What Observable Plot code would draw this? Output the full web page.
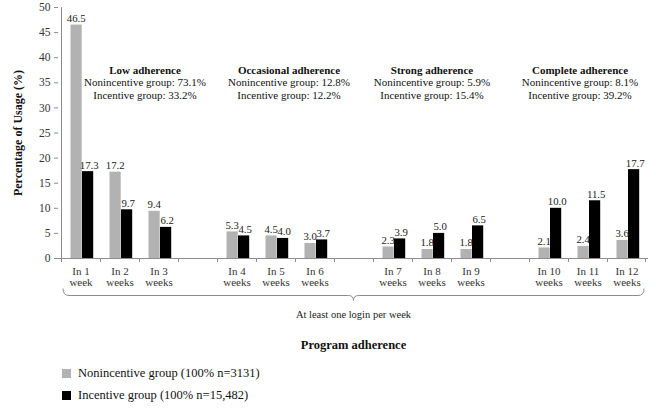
<!DOCTYPE html>
<html>
<head>
<meta charset="utf-8">
<script src="https://cdn.jsdelivr.net/npm/d3@7"></script>
<script src="https://cdn.jsdelivr.net/npm/@observablehq/plot@0.6"></script>
<style>
  html, body { margin: 0; padding: 0; background: #fff; }
  #chart { width: 656px; position: relative; font-family: "Liberation Serif", "Times New Roman", serif; }
  .legend { position: relative; height: 54px; font-size: 12.5px; color: #111; }
  .legend .item { position: absolute; left: 62px; display: flex; align-items: center; }
  .legend .sw { width: 9px; height: 9px; margin-right: 7px; }
</style>
</head>
<body>
<div id="chart"></div>
<script>
// ---- data ----
const slots = ["In 1 week", "In 2 weeks", "In 3 weeks", "gap1",
               "In 4 weeks", "In 5 weeks", "In 6 weeks", "gap2",
               "In 7 weeks", "In 8 weeks", "In 9 weeks", "gap3",
               "In 10 weeks", "In 11 weeks", "In 12 weeks"];
const weeks = ["In 1 week", "In 2 weeks", "In 3 weeks", "In 4 weeks", "In 5 weeks", "In 6 weeks",
               "In 7 weeks", "In 8 weeks", "In 9 weeks", "In 10 weeks", "In 11 weeks", "In 12 weeks"];
const nonincentive = [46.5, 17.2, 9.4, 5.3, 4.5, 3.0, 2.3, 1.8, 1.8, 2.1, 2.4, 3.6];
const incentive    = [17.3, 9.7, 6.2, 4.5, 4.0, 3.7, 3.9, 5.0, 6.5, 10.0, 11.5, 17.7];
const adherenceGroups = ["Low adherence", "Occasional adherence", "Strong adherence", "Complete adherence"];
const groupAnchorWeek = ["In 2 weeks", "In 5 weeks", "In 8 weeks", "In 11 weeks"];
const nonincShare = [73.1, 12.8, 5.9, 8.1];
const incShare    = [33.2, 12.2, 15.4, 39.2];
const yTicks = [0, 5, 10, 15, 20, 25, 30, 35, 40, 45, 50];
const seriesNames = ["Nonincentive group (100% n=3131)", "Incentive group (100% n=15,482)"];

// ---- layout constants ----
const GRAY = "#b2b2b2", BLACK = "#000000", AXIS = "#8c8c8c";
const annDx = [25, 13, 0, -8];
const annY = 37.5;

const nonRows = weeks.map((w, i) => ({slot: w, value: nonincentive[i]}));
const incRows = weeks.map((w, i) => ({slot: w, value: incentive[i]}));
const annRows = adherenceGroups.map((g, i) => ({
  slot: groupAnchorWeek[i], title: g,
  body: `Nonincentive group: ${nonincShare[i].toFixed(1)}%\nIncentive group: ${incShare[i].toFixed(1)}%`,
  dx: annDx[i]
}));

const fmtTick = d => d.startsWith("gap") ? "" : d.replace(/^(In \d+) /, "$1\n");

const marks = [
  Plot.barY(nonRows, {x: "slot", y: "value", fill: GRAY, insetLeft: 9.5, insetRight: 18.3}),
  Plot.barY(incRows, {x: "slot", y: "value", fill: BLACK, insetLeft: 21, insetRight: 6.8}),
  Plot.ruleY([0], {stroke: AXIS}),
  Plot.text(nonRows, {x: "slot", y: "value", text: d => d.value.toFixed(1), dx: -4.8, dy: -3, lineAnchor: "bottom", fontSize: 10.8, fill: "#222"}),
  Plot.text(incRows, {x: "slot", y: "value", text: d => d.value.toFixed(1), dx: 8.2, dy: -3, lineAnchor: "bottom", fontSize: 10.8, fill: "#222"}),
  Plot.axisY({ticks: yTicks, tickSize: 4, tickPadding: 4, stroke: AXIS, fill: "#333", fontSize: 11.5, label: null}),
  Plot.axisX({tickSize: 0, tickPadding: 8, tickFormat: fmtTick, fill: "#333", fontSize: 11, label: null, lineHeight: 1.05}),
  Plot.text(["Percentage of Usage (%)"], {frameAnchor: "left", textAnchor: "middle", rotate: -90, dx: -40, fontWeight: "bold", fontSize: 12, fill: "#111"}),
  Plot.text(["At least one login per week"], {frameAnchor: "bottom", dy: 59, fontSize: 10.5, fill: "#222"}),
  Plot.text(["Program adherence"], {frameAnchor: "bottom", dy: 90, fontWeight: "bold", fontSize: 12.5, fill: "#111"})
];
annRows.forEach(r => {
  marks.push(Plot.text([r], {x: "slot", y: () => annY, text: "title", dx: r.dx, fontWeight: "bold", fontSize: 11, fill: "#111"}));
  marks.push(Plot.text([r], {x: "slot", y: () => annY, text: "body", dx: r.dx, dy: 18.3, fontSize: 11, fill: "#111", lineHeight: 1.14}));
});

const plot = Plot.plot({
  width: 656,
  height: 356,
  marginTop: 7,
  marginBottom: 98,
  marginLeft: 58,
  marginRight: 8,
  style: {fontFamily: "'Liberation Serif', 'Times New Roman', serif", background: "#fff"},
  x: {domain: slots, padding: 0, axis: null},
  y: {domain: [0, 50], axis: null},
  marks
});

// decorations using the plot's own scales
const xs = plot.scale("x"), ys = plot.scale("y");
const bw = xs.bandwidth;
const y0 = ys.apply(0), yTop = ys.apply(50);
const xL = xs.apply(slots[0]), xR = xs.apply(slots[slots.length - 1]) + bw;
const g = d3.select(plot).append("g").attr("fill", "none").attr("stroke", AXIS).attr("stroke-width", 1);
g.append("line").attr("x1", xL + 0.5).attr("x2", xL + 0.5).attr("y1", yTop).attr("y2", y0);
slots.forEach((s, i) => {
  const x = xs.apply(s);
  g.append("line").attr("x1", x + 0.5).attr("x2", x + 0.5).attr("y1", y0).attr("y2", y0 + 4);
});
g.append("line").attr("x1", xR - 0.5).attr("x2", xR - 0.5).attr("y1", y0).attr("y2", y0 + 4);
const by = y0 + 37.5, xm = (xL + xR) / 2;
g.append("path").attr("d",
  `M${xL + 2},${by - 7} Q${xL + 2},${by} ${xL + 8},${by} L${xm - 5},${by} Q${xm},${by} ${xm},${by + 5} Q${xm},${by} ${xm + 5},${by} L${xR - 8},${by} Q${xR - 2},${by} ${xR - 2},${by - 7}`);

const chart = document.getElementById("chart");
chart.appendChild(plot);

const legend = document.createElement("div");
legend.className = "legend";
[GRAY, BLACK].forEach((c, i) => {
  const item = document.createElement("div");
  item.className = "item";
  item.style.top = (i === 0 ? 10 : 32) + "px";
  const sw = document.createElement("span");
  sw.className = "sw";
  sw.style.background = c;
  const t = document.createElement("span");
  t.textContent = seriesNames[i];
  item.appendChild(sw);
  item.appendChild(t);
  legend.appendChild(item);
});
chart.appendChild(legend);
</script>
</body>
</html>
